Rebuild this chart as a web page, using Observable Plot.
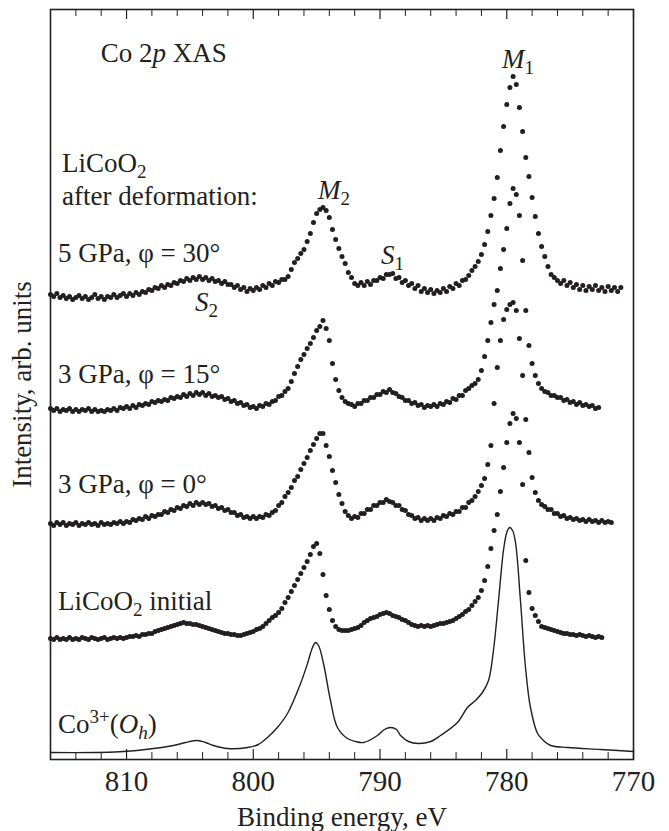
<!DOCTYPE html>
<html><head><meta charset="utf-8">
<script src="https://cdn.jsdelivr.net/npm/d3@7"></script>
<script src="https://cdn.jsdelivr.net/npm/@observablehq/plot@0.6"></script>
<style>
html,body{margin:0;padding:0;background:#fff;overflow:hidden;}
#chart svg{display:block;}
</style></head><body><div id="chart"></div>
<script>
// Binding energy grid of the measured spectra (eV)
const energy = [
816,815.75,815.5,815.25,815,814.75,814.5,814.25,814,813.75,813.5,813.25,813,812.75,812.5,812.25,
812,811.75,811.5,811.25,811,810.75,810.5,810.25,810,809.75,809.5,809.25,809,808.75,808.5,808.25,
808,807.75,807.5,807.25,807,806.75,806.5,806.25,806,805.75,805.5,805.25,805,804.75,804.5,804.25,
804,803.75,803.5,803.25,803,802.75,802.5,802.25,802,801.75,801.5,801.25,801,800.75,800.5,800.25,
800,799.75,799.5,799.25,799,798.75,798.5,798.25,798,797.75,797.5,797.25,797,796.75,796.5,796.25,
796,795.75,795.5,795.25,795,794.75,794.5,794.25,794,793.75,793.5,793.25,793,792.75,792.5,792.25,
792,791.75,791.5,791.25,791,790.75,790.5,790.25,790,789.75,789.5,789.25,789,788.75,788.5,788.25,
788,787.75,787.5,787.25,787,786.75,786.5,786.25,786,785.75,785.5,785.25,785,784.75,784.5,784.25,
784,783.75,783.5,783.25,783,782.75,782.5,782.25,782,781.75,781.5,781.25,781,780.75,780.5,780.25,
780,779.75,779.5,779.25,779,778.75,778.5,778.25,778,777.75,777.5,777.25,777,776.75,776.5,776.25,
776,775.75,775.5,775.25,775,774.75,774.5,774.25,774,773.75,773.5,773.25,773,772.75,772.5,772.25,
772,771.75,771.5,771.25,771
];

// Intensities (arb. units, vertically offset as in the figure)
const gpa5phi30 = [
465,463,466,462,464,461,463,460,462,464,461,463,460,462,465,461,
463,460,463,462,465,462,464,466,463,466,464,467,465,468,467,470,
469,472,471,474,472,475,474,477,476,479,478,481,479,482,480,483,
480,482,479,481,478,479,476,478,475,475,472,474,470,472,468,471,
469,472,470,474,472,476,474,478,477,480,480,483,490,497,501,506,
510,518,526,537,546,550,552,549,542,530,520,511,503,496,487,482,
476,474,477,474,478,475,479,479,482,481,485,485,486,481,482,477,
479,474,476,471,474,468,471,467,470,466,469,467,471,468,473,471,
476,474,479,480,484,489,493,498,505,515,528,544,561,582,609,633,
655,672,683,675,652,628,602,583,562,543,526,513,503,493,485,482,
479,476,479,474,477,472,475,470,474,469,473,470,474,469,472,468,
473,469,472,468,472
];
const gpa3phi15 = [
351,349,351,348,350,349,351,348,350,348,350,349,351,348,350,348,
349,348,350,349,351,349,352,351,353,351,354,352,355,354,356,355,
358,357,359,358,360,359,362,361,363,362,365,363,366,364,367,365,
367,364,366,363,364,362,363,360,361,358,359,356,357,354,355,352,
353,351,354,353,356,355,358,359,363,364,368,371,378,386,393,400,
405,411,416,422,429,433,439,431,419,396,380,369,362,358,356,355,
353,356,356,359,359,362,362,365,365,368,367,370,367,366,363,362,
359,359,356,357,354,355,352,354,353,355,353,356,355,358,357,361,
360,364,364,369,371,374,376,380,389,403,419,437,455,469,491,510,
531,556,571,565,544,499,449,414,396,384,376,371,368,367,364,364,
362,362,359,360,357,358,355,357,354,355,353,354,351,352
];
const gpa3phi0 = [
236,234,237,235,237,234,236,235,237,234,236,235,237,235,236,234,
237,235,236,235,237,236,238,236,238,237,240,239,241,240,243,241,
244,243,245,245,248,247,250,249,252,251,254,253,256,254,257,255,
257,255,256,253,254,251,252,249,250,247,247,244,245,242,243,241,
243,241,243,242,245,244,247,249,254,257,263,267,272,279,283,290,
296,302,309,315,321,326,326,314,303,289,277,265,256,248,244,241,
243,242,246,246,250,250,254,254,257,257,260,258,257,254,254,250,
249,245,244,241,242,239,241,239,241,239,242,241,244,243,246,245,
248,248,252,252,257,259,263,268,274,281,295,314,356,392,419,440,
450,455,457,449,421,384,340,307,282,267,259,255,253,250,250,246,
246,243,244,241,242,240,241,239,240,238,240,238,239,237,239,237,
238,237
];
const licoo2Initial = [
121,120,122,120,121,120,122,120,121,120,122,121,120,122,121,120,
121,122,120,121,122,121,122,121,122,123,123,124,123,125,125,126,
126,128,129,130,131,132,133,134,135,136,137,136,136,135,135,134,
133,132,131,130,129,128,127,126,126,125,125,124,124,125,126,127,
128,130,131,133,136,139,142,144,147,151,157,162,168,174,180,186,
192,198,205,213,216,206,185,164,150,139,133,130,129,129,129,130,
131,132,134,137,139,141,142,143,145,146,147,146,144,143,142,140,
139,137,135,134,133,134,133,134,133,134,135,136,136,137,138,139,
141,143,145,148,150,154,158,162,169,179,193,211,229,245,268,292,
317,336,346,341,317,275,199,167,151,144,138,133,132,131,130,129,
128,127,126,126,125,125,124,125,124,123,124,123,122,123,122
];

// Calculated Co3+(Oh) spectrum (energy, intensity)
const co3Energy = [816,810.2,806.3,805.35,804.4,803.77,803.14,802.03,800.46,799.6,798.88,798.1,797.3,796.27,795.72,795.33,795.09,794.85,794.46,793.91,793.36,792.57,791.94,791.3,790.2,789.65,789.17,788.7,788.38,787.75,786.96,786,785.23,783.89,783.1,782.47,781.92,781.44,781.05,780.65,780.26,780,779.78,779.54,779.3,778.92,778.52,778.13,777.57,777.1,776.54,775.2,772.6,770];
const co3Intensity = [7,8,14,17,19,17,14,11,12,15,22,32,46,76,96,112,117,114,96,59,32,21,18,17,24,30,32,30,24,18,16,18,24,37,52,59,67,79,109,159,209,227,232,229,216,159,92,52,26,19,14,12,10,8];

const majorTicks = [810, 800, 790, 780, 770];
const minorTicks = [814, 812, 808, 806, 804, 802, 798, 796, 794, 792, 788, 786, 784, 782, 778, 776, 774, 772];

const seriesNames = ["5 GPa, φ = 30°", "3 GPa, φ = 15°", "3 GPa, φ = 0°", "LiCoO2 initial"];
const seriesValues = [gpa5phi30, gpa3phi15, gpa3phi0, licoo2Initial];

const ink = "#231f20";
const font = "'Liberation Serif', 'Times New Roman', Times, serif";

const dots = seriesValues.flatMap((vals, k) =>
  vals.map((v, i) => ({series: seriesNames[k], energy: energy[i], intensity: v})));
const co3 = co3Energy.map((e, i) => ({energy: e, intensity: co3Intensity[i]}));

const chart = Plot.plot({
  width: 669, height: 831,
  marginLeft: 50, marginRight: 36, marginTop: 9, marginBottom: 72,
  style: {fontFamily: font, fontSize: "27px", color: ink, background: "#fff"},
  x: {domain: [816, 770]},
  y: {domain: [0, 750], axis: null},
  marks: [
    Plot.line(co3, {x: "energy", y: "intensity", stroke: ink, strokeWidth: 1.4, curve: "catmull-rom"}),
    Plot.dot(dots, {x: "energy", y: "intensity", r: 2.5, fill: ink, stroke: null}),
    Plot.ruleX(minorTicks, {stroke: ink, strokeWidth: 1, insetTop: 743}),
    Plot.ruleX(majorTicks, {stroke: ink, strokeWidth: 1.2, insetTop: 740}),
    Plot.ruleX(minorTicks, {stroke: ink, strokeWidth: 1, insetBottom: 743}),
    Plot.ruleX(majorTicks, {stroke: ink, strokeWidth: 1.2, insetBottom: 740}),
    Plot.axisX({ticks: majorTicks, tickSize: 0, tickPadding: 11, fontSize: 29, label: null, tickFormat: d => String(d)}),
    Plot.frame({stroke: ink, strokeWidth: 1.6}),
    Plot.text(["Binding energy, eV"], {frameAnchor: "bottom", lineAnchor: "middle", dy: 58, fontSize: 27, fill: ink}),
    Plot.text(["Intensity, arb. units"], {frameAnchor: "left", textAnchor: "middle", lineAnchor: "middle", dx: -28, rotate: -90, fontSize: 27, fill: ink})
  ]
});
document.getElementById("chart").append(chart);

// Rich-text annotations (subscripts / italics), placed in data coordinates
const labels = [
  {energy: 812.0, intensity: 697, parts: [["Co 2"], ["p", "i"], [" XAS"]]},
  {energy: 815.05, intensity: 587, parts: [["LiCoO"], ["2", "", "sub"]]},
  {energy: 815.05, intensity: 554, parts: [["after deformation:"]]},
  {energy: 815.37, intensity: 497, parts: [[seriesNames[0]]]},
  {energy: 815.37, intensity: 376, parts: [[seriesNames[1]]]},
  {energy: 815.37, intensity: 266, parts: [[seriesNames[2]]]},
  {energy: 815.37, intensity: 149, parts: [["LiCoO"], ["2", "", "sub"], [" initial"]]},
  {energy: 815.37, intensity: 26, parts: [["Co"], ["3+", "", "sup"], ["("], ["O", "i"], ["h", "i", "sub"], [")"]]},
  {energy: 794.85, intensity: 560, parts: [["M", "i"], ["2", "", "sub"]]},
  {energy: 789.88, intensity: 495, parts: [["S", "i"], ["1", "", "sub"]]},
  {energy: 804.56, intensity: 448, parts: [["S", "i"], ["2", "", "sub"]]},
  {energy: 780.34, intensity: 691, parts: [["M", "i"], ["1", "", "sub"]]}
];
const sx = chart.scale("x"), sy = chart.scale("y");
const g = d3.select(chart).append("g")
  .attr("font-family", font).attr("font-size", 27).attr("fill", ink).attr("text-anchor", "start");
const shiftOf = {sub: 6, sup: -10, "": 0};
for (const l of labels) {
  const t = g.append("text").attr("x", sx.apply(l.energy)).attr("y", sy.apply(l.intensity));
  let cur = 0;
  for (const [txt, style = "", pos = ""] of l.parts) {
    const target = shiftOf[pos];
    const ts = t.append("tspan").text(txt);
    if (target !== cur) { ts.attr("dy", target - cur); cur = target; }
    if (style === "i") ts.attr("font-style", "italic");
    if (pos) ts.attr("font-size", 19);
  }
}
</script>
</body></html>
